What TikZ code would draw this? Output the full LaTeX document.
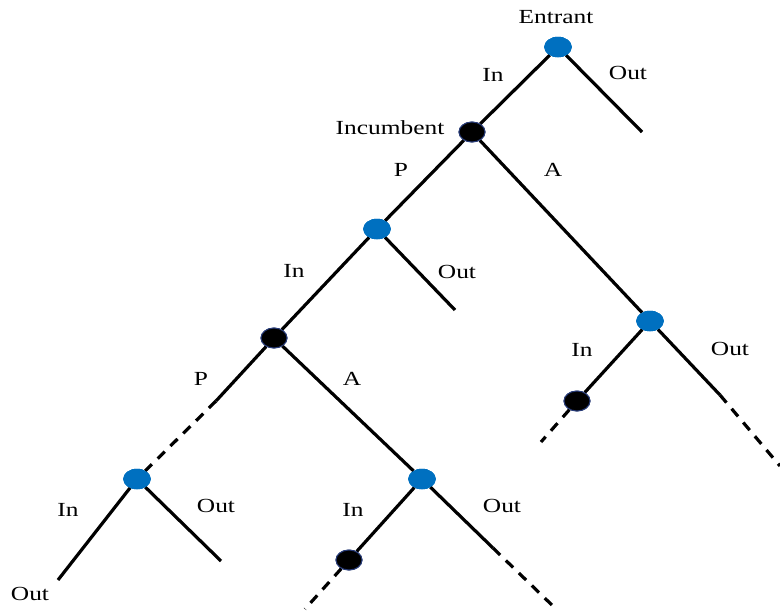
\documentclass[tikz,border=0pt]{standalone}
\usepackage{fontspec}
\setmainfont{Liberation Serif}
\usetikzlibrary{shapes.geometric}
\definecolor{nodeblue}{RGB}{0,112,192}
\definecolor{rimblue}{RGB}{40,60,120}
\newcommand\wlab[1]{\scalebox{1.27}[1]{#1}}
\tikzset{
  ent/.style={ellipse, fill=nodeblue, draw=nodeblue, line width=0.5pt, minimum width=27pt, minimum height=20pt, inner sep=0pt},
  inc/.style={ellipse, fill=black, draw=rimblue, line width=1pt, minimum width=26pt, minimum height=20pt, inner sep=0pt},
  br/.style={line width=3.2pt},
  brd/.style={line width=3.2pt, dash pattern=on 10pt off 8pt},
  lab/.style={font=\fontsize{20}{22}\selectfont, inner sep=0pt}
}
\begin{document}
\begin{tikzpicture}[x=1pt,y=-1pt]
\useasboundingbox (0,0) rectangle (780,611);
% nodes
\node[ent] (E1) at (558,47) {};
\node[inc] (I1) at (472,132) {};
\node[ent] (E2) at (377,229) {};
\node[ent] (E3) at (650,321) {};
\node[inc] (I2) at (274,338) {};
\node[ent] (E4) at (137,479) {};
\node[ent] (E5) at (422,479) {};
\node[inc] (I3) at (349,560) {};
\node[inc] (I4) at (577,401) {};
% free ends
\coordinate (E1out) at (642,132);
\coordinate (E2out) at (455,310);
\coordinate (Pbr) at (216,401);
\coordinate (E4in) at (58,580);
\coordinate (E4out) at (221,561);
\coordinate (I3end) at (305,609);
\coordinate (E5br) at (493,548);
\coordinate (E5end) at (555,608);
\coordinate (I4end) at (541,442);
\coordinate (E3br) at (720,395);
\coordinate (E3end) at (780,466);
% edges
\draw[br] (E1) -- (I1);
\draw[br] (E1) -- (E1out);
\draw[br] (I1) -- (E2);
\draw[br] (I1) -- (E3);
\draw[br] (E2) -- (I2);
\draw[br] (E2) -- (E2out);
\draw[br] (I2) -- (Pbr);
\draw[brd] (Pbr) -- (E4);
\draw[br] (I2) -- (E5);
\draw[br] (E4) -- (E4in);
\draw[br] (E4) -- (E4out);
\draw[br] (E5) -- (I3);
\draw[brd] (I3) -- (I3end);
\draw[br] (E5) -- (E5br);
\draw[brd] (E5br) -- (E5end);
\draw[br] (E3) -- (I4);
\draw[brd] (I4) -- (I4end);
\draw[br] (E3) -- (E3br);
\draw[brd] (E3br) -- (E3end);
% redraw nodes on top
\node[ent] at (E1) {};
\node[inc] at (I1) {};
\node[ent] at (E2) {};
\node[ent] at (E3) {};
\node[inc] at (I2) {};
\node[ent] at (E4) {};
\node[ent] at (E5) {};
\node[inc] at (I3) {};
\node[inc] at (I4) {};
% labels
\node[lab] (tEntrant) at (556,17) {\wlab{Entrant}};
\node[lab] (t1) at (493,75) {\wlab{In}};
\node[lab] (t2) at (628,73) {\wlab{Out}};
\node[lab] (tInc) at (390,128) {\wlab{Incumbent}};
\node[lab] (t3) at (401,170) {\wlab{P}};
\node[lab] (t4) at (553,170) {\wlab{A}};
\node[lab] (t5) at (294,271) {\wlab{In}};
\node[lab] (t6) at (457,272) {\wlab{Out}};
\node[lab] (t7) at (201,379) {\wlab{P}};
\node[lab] (t8) at (352,379) {\wlab{A}};
\node[lab] (t9) at (582,350) {\wlab{In}};
\node[lab] (t10) at (730,349) {\wlab{Out}};
\node[lab] (t11) at (68,510) {\wlab{In}};
\node[lab] (t12) at (216,506) {\wlab{Out}};
\node[lab] (t13) at (353,510) {\wlab{In}};
\node[lab] (t14) at (502,506) {\wlab{Out}};
\node[lab] (t15) at (30,594) {\wlab{Out}};
\end{tikzpicture}
\end{document}
